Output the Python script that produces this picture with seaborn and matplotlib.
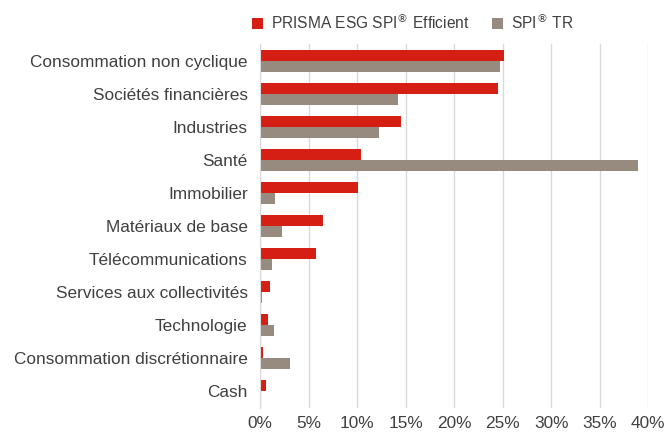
import pandas as pd
import numpy as np
import matplotlib.pyplot as plt
import seaborn as sns

categories = ['Consommation non cyclique', 'Sociétés financières', 'Industries', 'Santé',
              'Immobilier', 'Matériaux de base', 'Télécommunications',
              'Services aux collectivités', 'Technologie', 'Consommation discrétionnaire', 'Cash']
prisma = [25.1, 24.5, 14.5, 10.4, 10.1, 6.5, 5.8, 1.0, 0.8, 0.3, 0.65]
spi = [24.7, 14.2, 12.2, 38.9, 1.5, 2.3, 1.2, 0.2, 1.4, 3.1, 0.0]
series = ['PRISMA ESG SPI$^{®}$ Efficient', 'SPI$^{®}$ TR']

df = pd.DataFrame({
    'cat': categories * 2,
    'val': prisma + spi,
    'serie': [series[0]] * len(categories) + [series[1]] * len(categories),
})

sns.set_style('white')
plt.rcParams['font.family'] = ['Liberation Sans', 'DejaVu Sans']

fig, ax = plt.subplots(figsize=(6.67, 4.34), dpi=100)
sns.barplot(data=df, y='cat', x='val', hue='serie', orient='h',
            palette=['#D51F14', '#978B80'], saturation=1, width=0.72, gap=0.08,
            edgecolor='none', ax=ax)

ax.set_xlim(0, 40)
ax.set_xticks(np.arange(0, 41, 5))
ax.set_xticklabels([f'{t}%' for t in range(0, 41, 5)])
ax.xaxis.grid(True, color='#D9D9D9', linewidth=1)
ax.set_axisbelow(True)
ax.set_xlabel('')
ax.set_ylabel('')
for s in ['top', 'right', 'bottom']:
    ax.spines[s].set_visible(False)
ax.spines['left'].set_color('#D9D9D9')
ax.tick_params(axis='both', labelsize=12.4, colors='#404040', length=0)
ax.tick_params(axis='y', pad=9)
ax.tick_params(axis='x', pad=6)

handles, labels = ax.get_legend_handles_labels()
ax.legend(handles, labels, loc='lower center', bbox_to_anchor=(0.393, 1.0), ncol=2,
          frameon=False, fontsize=11.2, handlelength=0.75, handleheight=0.75,
          columnspacing=1.4, handletextpad=0.5, labelcolor='#404040',
          borderaxespad=0.4)

fig.subplots_adjust(left=0.39, right=0.972, top=0.8975, bottom=0.061)
fig.savefig('out.png', dpi=100)
